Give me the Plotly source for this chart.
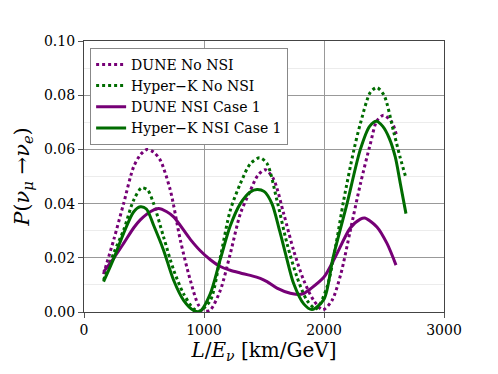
import plotly.graph_objs as go

# values
dune_nonsi_x = [163, 250, 330, 413, 470, 525, 580, 636, 719, 803, 886, 955, 1010, 1053, 1136, 1219, 1303,
                1386, 1450, 1510, 1580, 1664, 1747, 1831, 1914, 1990, 2067, 2140, 2219, 2303, 2386, 2440,
                2497, 2566, 2608]
dune_nonsi_y = [0.014, 0.027, 0.040, 0.0535, 0.058, 0.060, 0.059, 0.056, 0.045, 0.0265, 0.0117, 0.0025,
                0.0003, 0.0008, 0.008, 0.0215, 0.0363, 0.0448, 0.0505, 0.0525, 0.049, 0.0363, 0.0227,
                0.0117, 0.0043, 0.0008, 0.0043, 0.014, 0.030, 0.0472, 0.062, 0.0705, 0.0726, 0.070, 0.0645]

hk_nonsi_x = [163, 250, 330, 413, 480, 530, 580, 663, 747, 830, 913, 960, 1053, 1136, 1219, 1303, 1386,
              1463, 1525, 1608, 1692, 1775, 1858, 1935, 2025, 2100, 2164, 2247, 2303, 2386, 2441, 2500,
              2580, 2636, 2683]
hk_nonsi_y = [0.0118, 0.022, 0.0302, 0.0412, 0.0458, 0.045, 0.040, 0.0277, 0.0155, 0.0067, 0.0012, 0.0003,
              0.0043, 0.0202, 0.0375, 0.0474, 0.0547, 0.0569, 0.0548, 0.0412, 0.0252, 0.0129, 0.0043,
              0.0012, 0.0092, 0.025, 0.0412, 0.0594, 0.0695, 0.081, 0.0828, 0.080, 0.0666, 0.0568, 0.0495]

dune_nsi_x = [163, 250, 330, 413, 469, 552, 622, 690, 747, 886, 969, 1053, 1136, 1219, 1303, 1386, 1469,
              1525, 1608, 1719, 1780, 1830, 1886, 2000, 2094, 2219, 2303, 2340, 2441, 2525, 2600]
dune_nsi_y = [0.0148, 0.020, 0.0253, 0.031, 0.034, 0.037, 0.0382, 0.037, 0.0351, 0.0268, 0.0226, 0.0193,
              0.0168, 0.0154, 0.0144, 0.0135, 0.0124, 0.0112, 0.0088, 0.0069, 0.0065, 0.0068, 0.0085,
              0.0129, 0.0203, 0.031, 0.0343, 0.0347, 0.0314, 0.0253, 0.0173]

hk_nsi_x = [163, 250, 330, 413, 469, 520, 580, 663, 747, 830, 913, 965, 1053, 1136, 1219, 1303, 1386, 1442,
            1500, 1566, 1630, 1688, 1747, 1831, 1900, 2000, 2075, 2192, 2303, 2380, 2436, 2490, 2545, 2594,
            2636, 2683]
hk_nsi_y = [0.0112, 0.020, 0.029, 0.0369, 0.0388, 0.038, 0.032, 0.0228, 0.0117, 0.0043, 0.0006, 0.0002,
            0.0068, 0.0195, 0.0318, 0.040, 0.0443, 0.0452, 0.0445, 0.040, 0.030, 0.020, 0.0105, 0.003,
            0.0009, 0.0047, 0.020, 0.040, 0.060, 0.0685, 0.0704, 0.0685, 0.0640, 0.0572, 0.0474, 0.0363]

x_ticks = [0, 1000, 2000, 3000]
y_ticks = [0.00, 0.02, 0.04, 0.06, 0.08, 0.10]

PURPLE = '#760076'
GREEN = '#006c00'
SERIF = 'DejaVu Serif'


def curve(x, y, name, color, dash):
    return go.Scatter(x=x, y=y, name=name, mode='lines',
                      line={'color': color, 'width': 3, 'dash': dash, 'shape': 'spline', 'smoothing': 0.8})


traces = [
    curve(dune_nonsi_x, dune_nonsi_y, 'DUNE No NSI', PURPLE, 'dot'),
    curve(hk_nonsi_x, hk_nonsi_y, 'Hyper\u2212K No NSI', GREEN, 'dot'),
    curve(dune_nsi_x, dune_nsi_y, 'DUNE NSI Case 1', PURPLE, 'solid'),
    curve(hk_nsi_x, hk_nsi_y, 'Hyper\u2212K NSI Case 1', GREEN, 'solid'),
]

axis_common = dict(showline=True, mirror=True, linecolor='#444', linewidth=1.2, automargin=False,
                   ticks='outside', ticklen=5, tickcolor='#555', zeroline=False,
                   gridcolor='#999', gridwidth=1,
                   tickfont={'family': SERIF, 'size': 14, 'color': 'black'})

# the page adds an 8px body margin, so the margins are trimmed to land the plot where the reference has it
layout = go.Layout(
    width=490, height=366,
    margin={'l': 76, 'r': 54, 't': 33, 'b': 62},
    paper_bgcolor='white', plot_bgcolor='white',
    font={'family': SERIF, 'color': 'black'},
    xaxis=dict(axis_common, range=[0, 3000], tickvals=x_ticks,
               title={'text': '<i>L</i>/<i>E</i><sub><i>\u03bd</i></sub> [km/GeV]',
                      'font': {'family': SERIF, 'size': 20}, 'standoff': 2}),
    yaxis=dict(axis_common, range=[0, 0.1], tickvals=y_ticks, tickformat='.2f',
               minor={'dtick': 0.01, 'showgrid': True, 'gridcolor': '#ececec', 'ticks': ''},
               title={'text': '<i>P</i>(<i>\u03bd</i><sub><i>\u03bc</i></sub> \u2192<i>\u03bd</i><sub><i>e</i></sub>)',
                      'font': {'family': SERIF, 'size': 21}, 'standoff': 8}),
    legend={'x': 0.017, 'y': 0.975, 'xanchor': 'left', 'yanchor': 'top',
            'bgcolor': 'white', 'bordercolor': '#888', 'borderwidth': 1,
            'font': {'family': SERIF, 'size': 14}, 'tracegroupgap': 0},
    showlegend=True,
)

fig = go.Figure(traces, layout=layout)
fig.write_html('out.html')
